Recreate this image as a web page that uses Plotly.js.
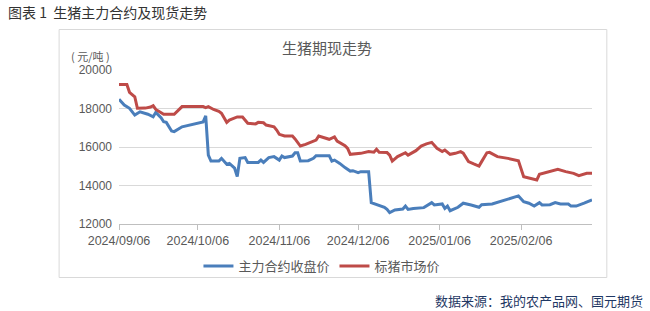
<!DOCTYPE html>
<html>
<head>
<meta charset="utf-8">
<script src="https://cdn.plot.ly/plotly-3.0.1.min.js"></script>
<style>html,body{margin:0;padding:0;background:#fff;}#chart{width:650px;height:311px;}</style>
</head>
<body>
<div id="chart"></div>
<script>
// 主力合约收盘价
const futDates = ['2024-09-06','2024-09-08','2024-09-10','2024-09-12','2024-09-14','2024-09-17','2024-09-19','2024-09-20','2024-09-22','2024-09-23','2024-09-24','2024-09-26','2024-09-27','2024-09-30','2024-10-08','2024-10-09','2024-10-10','2024-10-11','2024-10-14','2024-10-15','2024-10-17','2024-10-18','2024-10-20','2024-10-21','2024-10-22','2024-10-24','2024-10-25','2024-10-29','2024-10-30','2024-10-31','2024-11-02','2024-11-04','2024-11-06','2024-11-07','2024-11-08','2024-11-11','2024-11-12','2024-11-13','2024-11-14','2024-11-17','2024-11-19','2024-11-20','2024-11-25','2024-11-26','2024-11-27','2024-11-29','2024-12-01','2024-12-03','2024-12-04','2024-12-06','2024-12-07','2024-12-10','2024-12-11','2024-12-14','2024-12-16','2024-12-17','2024-12-18','2024-12-20','2024-12-23','2024-12-24','2024-12-25','2024-12-27','2024-12-31','2025-01-03','2025-01-04','2025-01-07','2025-01-08','2025-01-09','2025-01-10','2025-01-13','2025-01-15','2025-01-18','2025-01-21','2025-01-22','2025-01-24','2025-01-26','2025-02-05','2025-02-07','2025-02-09','2025-02-11','2025-02-13','2025-02-14','2025-02-17','2025-02-19','2025-02-21','2025-02-24','2025-02-25','2025-02-27','2025-03-02','2025-03-05'];
const futValues = [18480,18180,18010,17660,17830,17700,17570,17800,17520,17310,17280,16830,16800,17050,17300,17620,15580,15270,15270,15410,15100,15150,14900,14460,15410,15450,15200,15200,15320,15200,15450,15500,15320,15530,15450,15530,15700,15700,15270,15290,15410,15550,15550,15270,15320,15150,14930,14750,14770,14670,14720,14720,13110,12990,12870,12760,12590,12730,12780,12930,12760,12810,12850,13110,12990,13040,12810,12930,12690,12870,13080,12990,12870,13000,13020,13040,13460,13160,13080,12930,13110,12990,13000,13110,13040,13040,12930,12930,13080,13250];

// 标猪市场价
const spotDates = ['2024-09-06','2024-09-09','2024-09-10','2024-09-12','2024-09-13','2024-09-16','2024-09-18','2024-09-19','2024-09-20','2024-09-23','2024-09-27','2024-09-30','2024-10-08','2024-10-09','2024-10-10','2024-10-12','2024-10-14','2024-10-15','2024-10-17','2024-10-18','2024-10-21','2024-10-23','2024-10-25','2024-10-28','2024-10-29','2024-10-31','2024-11-01','2024-11-04','2024-11-05','2024-11-06','2024-11-08','2024-11-11','2024-11-12','2024-11-14','2024-11-16','2024-11-19','2024-11-20','2024-11-21','2024-11-23','2024-11-25','2024-11-27','2024-11-28','2024-12-01','2024-12-02','2024-12-03','2024-12-05','2024-12-07','2024-12-10','2024-12-12','2024-12-13','2024-12-14','2024-12-17','2024-12-18','2024-12-19','2024-12-21','2024-12-24','2024-12-25','2024-12-28','2024-12-30','2025-01-01','2025-01-03','2025-01-05','2025-01-07','2025-01-08','2025-01-10','2025-01-12','2025-01-14','2025-01-15','2025-01-17','2025-01-19','2025-01-21','2025-01-22','2025-01-24','2025-01-25','2025-01-28','2025-02-01','2025-02-05','2025-02-07','2025-02-09','2025-02-12','2025-02-13','2025-02-16','2025-02-18','2025-02-20','2025-02-23','2025-02-26','2025-02-28','2025-03-03','2025-03-05'];
const spotValues = [19250,19250,18840,18610,18010,18020,18080,18150,17950,17700,17700,18100,18100,18050,18100,17950,17850,17750,17280,17400,17560,17560,17230,17200,17280,17260,17140,17050,16880,16660,16570,16570,16420,16050,16140,16310,16360,16570,16480,16400,16520,16310,16070,15930,15620,15640,15670,15760,15730,15880,15730,15710,15580,15270,15500,15700,15580,15810,16050,16160,16240,15930,15760,15840,15620,15670,15760,15680,15240,15120,15010,15240,15700,15720,15500,15410,15290,14460,14400,14290,14580,14690,14750,14840,14720,14630,14510,14630,14630];

const seriesNames = ['主力合约收盘价','标猪市场价'];
const yTicks = [12000,14000,16000,18000,20000];
const figTitle = '图表 1  生猪主力合约及现货走势';
const chartTitle = '生猪期现走势';
const unitText = '( 元/吨 )';
const sourceText = '数据来源：我的农产品网、国元期货';

// pixel helpers for plot-area geometry
const L = 119.3, R = 591.7, T = 70, B = 224;
const px = x => (x - L) / (R - L);
const py = y => (B - y) / (B - T);

const cjk = '"Noto Sans CJK SC", "Noto Sans", sans-serif';

const traces = [
  {x: futDates, y: futValues, name: seriesNames[0], type: 'scatter', mode: 'lines',
   line: {color: '#4a7ebb', width: 3}},
  {x: spotDates, y: spotValues, name: seriesNames[1], type: 'scatter', mode: 'lines',
   line: {color: '#be4b48', width: 3}}
];

const layout = {
  width: 650, height: 311,
  margin: {l: L, r: 650 - R, t: T, b: 311 - B, pad: 0},
  paper_bgcolor: '#ffffff', plot_bgcolor: '#ffffff',
  showlegend: true,
  legend: {orientation: 'h', xref: 'paper', yref: 'paper', x: px(322), y: py(266),
           xanchor: 'center', yanchor: 'middle', itemwidth: 30, tracegroupgap: 0,
           font: {family: cjk, size: 13, color: '#595959'}, bgcolor: 'rgba(0,0,0,0)'},
  xaxis: {type: 'date', range: ['2024-09-06', '2025-03-05'],
          tick0: '2024-09-06', dtick: 'M1', tickformat: '%Y/%m/%d',
          ticks: 'outside', ticklen: 5, tickcolor: '#bfbfbf', tickwidth: 1,
          showline: true, linecolor: '#bfbfbf', linewidth: 1,
          showgrid: false, zeroline: false,
          tickfont: {family: '"Liberation Sans", Arial, sans-serif', size: 12.5, color: '#595959'}},
  yaxis: {range: [12000, 20000], tickvals: yTicks, ticktext: yTicks.map(String),
          showgrid: true, gridcolor: '#d9d9d9', gridwidth: 1, zeroline: false,
          showline: false, ticks: '', ticklabelstandoff: 6,
          tickfont: {family: '"Liberation Sans", Arial, sans-serif', size: 12, color: '#595959'}},
  shapes: [
    {type: 'rect', xref: 'paper', yref: 'paper', x0: px(59.5), x1: px(606.5), y0: py(277.5), y1: py(29.5),
     line: {color: '#d9d9d9', width: 1}, fillcolor: 'rgba(0,0,0,0)', layer: 'below'}
  ],
  annotations: [
    {text: figTitle, xref: 'paper', yref: 'paper', x: px(6), y: py(12), xanchor: 'left', yanchor: 'middle',
     showarrow: false, font: {family: cjk, size: 14, color: '#333333'}},
    {text: chartTitle, xref: 'paper', yref: 'paper', x: px(327), y: py(47), xanchor: 'center', yanchor: 'middle',
     showarrow: false, font: {family: cjk, size: 15, color: '#595959'}},
    {text: unitText, xref: 'paper', yref: 'paper', x: px(69), y: py(56), xanchor: 'left', yanchor: 'middle',
     showarrow: false, font: {family: cjk, size: 11, color: '#595959'}},
    {text: sourceText, xref: 'paper', yref: 'paper', x: px(645), y: py(300), xanchor: 'right', yanchor: 'middle',
     showarrow: false, font: {family: cjk, size: 13, color: '#1f3864'}}
  ]
};

Plotly.newPlot('chart', traces, layout, {displayModeBar: false, staticPlot: true});
</script>
</body>
</html>
